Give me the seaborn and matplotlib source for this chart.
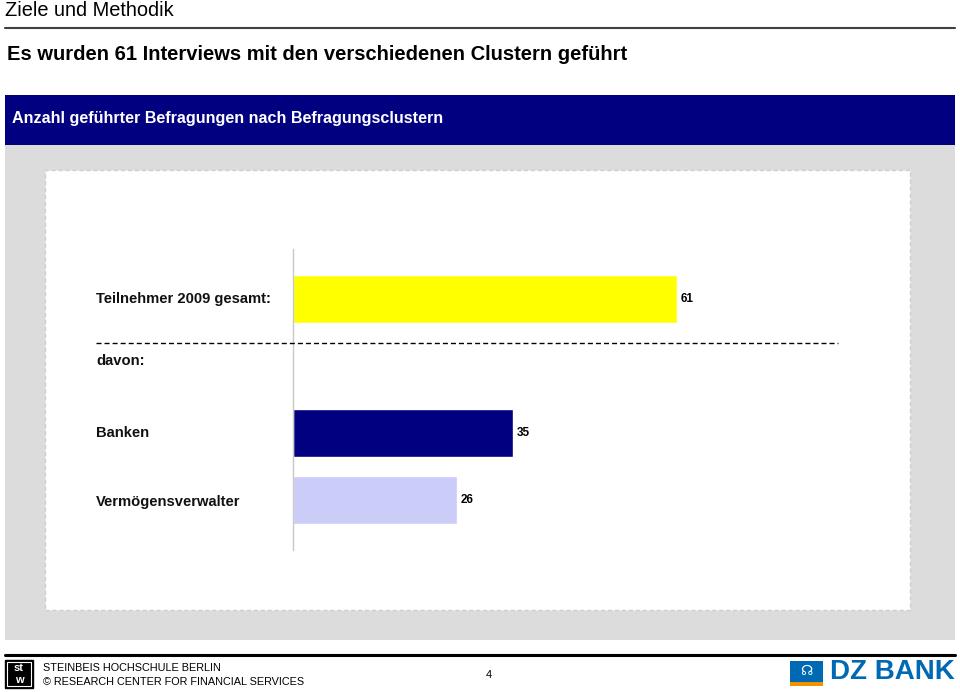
import matplotlib
matplotlib.use("Agg")
import matplotlib.pyplot as plt
from matplotlib.patches import Rectangle
from matplotlib.lines import Line2D
import seaborn as sns
import pandas as pd

# chart data
categories = ["Teilnehmer 2009 gesamt:", "Banken", "Vermögensverwalter"]
values = [61, 35, 26]
bar_colors = ["#ffff00", "#000080", "#ccccf8"]
slot_order = ["Teilnehmer 2009 gesamt:", "davon:", "Banken", "Vermögensverwalter"]

header = "Ziele und Methodik"
title = "Es wurden 61 Interviews mit den verschiedenen Clustern geführt"
banner = "Anzahl geführter Befragungen nach Befragungsclustern"
footer_1 = "STEINBEIS HOCHSCHULE BERLIN"
footer_2 = "© RESEARCH CENTER FOR FINANCIAL SERVICES"
page_no = "4"

sns.set_style("white")
plt.rcParams['font.family'] = ['Liberation Sans', 'DejaVu Sans']
plt.rcParams['text.color'] = 'black'

W, H = 960, 692
fig = plt.figure(figsize=(W / 100, H / 100), dpi=100)
fig.patch.set_facecolor("white")


# helper: pixel box (top-left origin) -> figure fraction rect
def px_rect(x, y, w, h, **kw):
    return Rectangle((x / W, 1 - (y + h) / H), w / W, h / H,
                     transform=fig.transFigure, **kw)


def px_text(x, y, s, **kw):
    fig.text(x / W, 1 - y / H, s, **kw)


# header
px_text(5, 11, header, fontsize=14.4, va="center", ha="left")
fig.add_artist(Line2D([5 / W, 955 / W], [1 - 28 / H, 1 - 28 / H],
                      transform=fig.transFigure, color="#404040", lw=1.5))
px_text(7, 54, title, fontsize=14.5, fontweight="bold", va="center")

# banner and grey panel
fig.add_artist(px_rect(5, 95, 950, 50, facecolor="#000080", edgecolor="none"))
px_text(12, 119, banner, fontsize=11.6, fontweight="bold", color="white", va="center")
fig.add_artist(px_rect(5, 145, 950, 495, facecolor="#dcdcdc", edgecolor="none"))
fig.add_artist(px_rect(45, 170, 865, 440, facecolor="white", edgecolor="#cfcfcf",
                       lw=1, linestyle=(0, (3, 2))))

# chart axes
ax_left, ax_right, ax_top, ax_bottom = 293, 838, 249, 550
ax = fig.add_axes([ax_left / W, 1 - ax_bottom / H,
                   (ax_right - ax_left) / W, (ax_bottom - ax_top) / H])
ax.set_facecolor("none")
ax.set_zorder(5)

df = pd.DataFrame({"category": categories, "value": values})
sns.barplot(data=df, x="value", y="category", hue="category", order=slot_order,
            hue_order=categories, palette=dict(zip(categories, bar_colors)),
            width=0.72, legend=False, ax=ax, saturation=1)

px_per_unit = (677 - 293) / 61
ax.set_xlim(0, (ax_right - ax_left) / px_per_unit)
ax.set_ylim(3.75, -0.75)
ax.set_xlabel("")
ax.set_ylabel("")
ax.set_xticks([])
ax.set_yticks([])
for side in ["top", "right", "bottom"]:
    ax.spines[side].set_visible(False)
ax.spines["left"].set_color("#c8c8c8")
ax.spines["left"].set_linewidth(1)

for cont in ax.containers:
    ax.bar_label(cont, fmt="%d", padding=2.5, fontsize=8.5, fontweight="bold")

# category labels at the left
label_x = (96 - ax_left) / (ax_right - ax_left)
label_y = {"Teilnehmer 2009 gesamt:": 0, "davon:": 0.93,
           "Banken": 2, "Vermögensverwalter": 3.03}
for name, yy in label_y.items():
    ax.text(label_x, yy, name, transform=ax.get_yaxis_transform(),
            ha="left", va="center", fontsize=10.6, fontweight="bold",
            color="#111111", clip_on=False)

# dashed separator
fig.add_artist(Line2D([96 / W, 838 / W], [1 - 343 / H, 1 - 343 / H],
                      transform=fig.transFigure, color="#000000", lw=1,
                      linestyle=(0, (3.6, 2.2)), zorder=6))

# footer
fig.add_artist(Line2D([5 / W, 955 / W], [1 - 655 / H, 1 - 655 / H],
                      transform=fig.transFigure, color="#000000", lw=2.2))
fig.add_artist(px_rect(5, 660, 28, 28, facecolor="#000000", edgecolor="#000000"))
fig.add_artist(px_rect(7, 662, 24, 24, facecolor="none", edgecolor="white", lw=0.8))
px_text(19, 668, "st", fontsize=8, fontweight="bold", color="white", ha="center", va="center")
px_text(19, 680, "w", fontsize=8, fontweight="bold", color="white", ha="center", va="center")
px_text(43, 668, footer_1, fontsize=7.85, va="center")
px_text(43, 682, footer_2, fontsize=7.85, va="center")
px_text(489, 675, page_no, fontsize=8, va="center", ha="center")

# DZ BANK logo
fig.add_artist(px_rect(790, 661, 33, 21, facecolor="#0069b4", edgecolor="none"))
fig.add_artist(px_rect(790, 682, 33, 4, facecolor="#f39200", edgecolor="none"))
px_text(806, 671, "☊", fontsize=10, color="white", ha="center", va="center",
        fontweight="bold")
px_text(830, 672, "DZ BANK", fontsize=20, fontweight="bold", color="#0069b4",
        ha="left", va="center")

fig.savefig("out.png", dpi=100)
